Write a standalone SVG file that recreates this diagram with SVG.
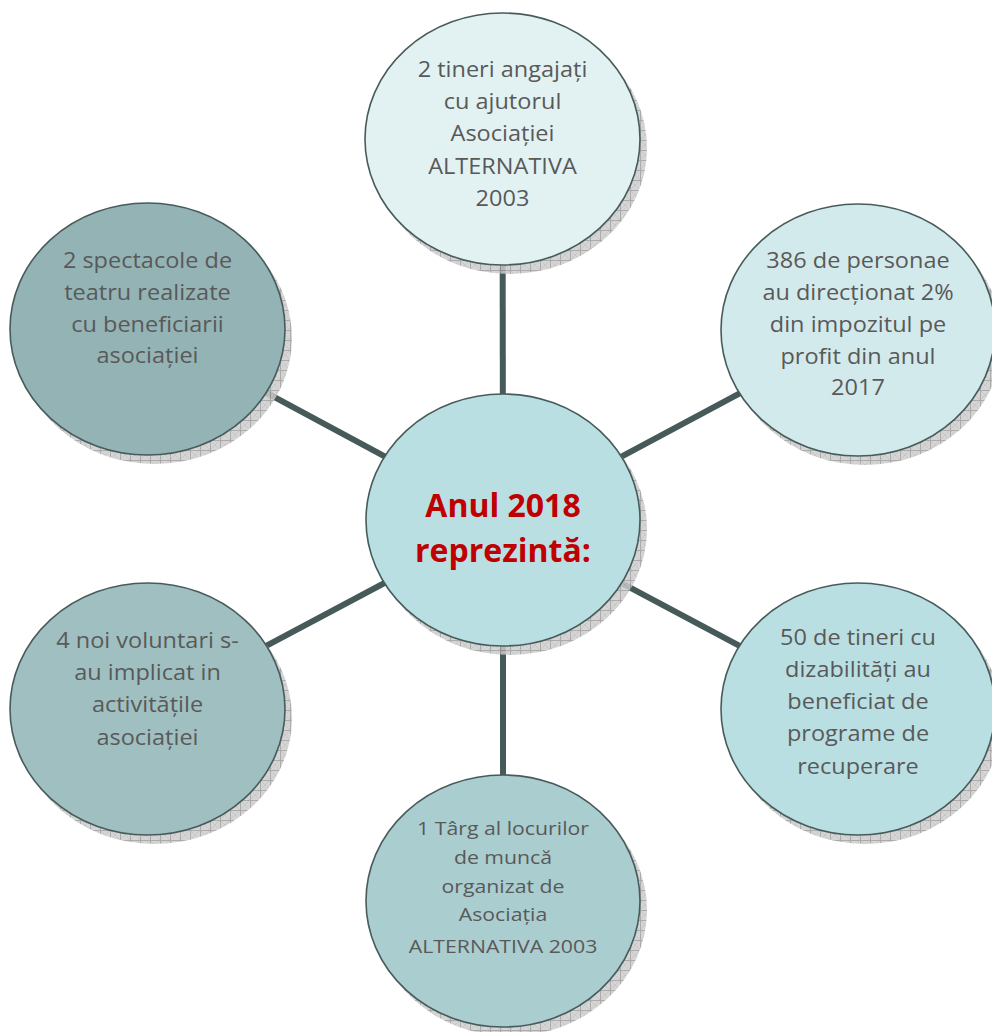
<svg xmlns="http://www.w3.org/2000/svg" width="992" height="1032" viewBox="0 0 992 1032">
  <defs>
    <pattern id="hatch" width="10" height="10" patternUnits="userSpaceOnUse">
      <rect width="10" height="10" fill="#cdcdcd"/>
      <path d="M0 0L10 10M10 0L0 10" stroke="#b4b4b4" stroke-width="0.6"/>
      <path d="M0 0.5H10M0.5 0V10" stroke="#9c9c9c" stroke-width="1"/>
    </pattern>
    <style>
      .conn { stroke: #475a5a; stroke-width: 6; stroke-linecap: butt; }
      .shadow { fill: url(#hatch); opacity: 0.85; }
      .node { stroke: #485b5b; stroke-width: 1.6; }
      .lbl { font-family: "Open Sans", "Liberation Sans", sans-serif; font-size: 21px; fill: #595959; text-anchor: middle; }
      .lbl-s { font-size: 19px; }
      .title { font-family: "Open Sans", "Liberation Sans", sans-serif; font-size: 32px; font-weight: bold; fill: #c00000; text-anchor: middle; }
    </style>
  </defs>
  <rect width="992" height="1032" fill="#ffffff"/>

  <g id="connectors">
    <line class="conn" x1="503" y1="520" x2="502.5" y2="139"/>
    <line class="conn" x1="503" y1="520" x2="858" y2="330"/>
    <line class="conn" x1="503" y1="520" x2="858" y2="709"/>
    <line class="conn" x1="503" y1="520" x2="503" y2="901"/>
    <line class="conn" x1="503" y1="520" x2="147.5" y2="709"/>
    <line class="conn" x1="503" y1="520" x2="147.5" y2="329"/>
  </g>

  <g id="shadows">
    <ellipse class="shadow" cx="509.5" cy="148" rx="137.5" ry="126"/>
    <ellipse class="shadow" cx="865" cy="339" rx="137" ry="126"/>
    <ellipse class="shadow" cx="865" cy="718" rx="137" ry="126"/>
    <ellipse class="shadow" cx="510" cy="910" rx="137" ry="126"/>
    <ellipse class="shadow" cx="154.5" cy="718" rx="137.5" ry="126"/>
    <ellipse class="shadow" cx="154.5" cy="338" rx="137.5" ry="126"/>
    <ellipse class="shadow" cx="510" cy="529" rx="137" ry="126"/>
  </g>

  <g id="node-top">
    <ellipse class="node" cx="502.5" cy="139" rx="137.5" ry="126" fill="#e2f2f3"/>
    <g transform="translate(502.5 0) scale(1.12 1)">
      <text class="lbl" x="0" y="77">2 tineri angajați</text>
      <text class="lbl" x="0" y="109">cu ajutorul</text>
      <text class="lbl" x="0" y="141">Asociației</text>
      <text class="lbl" x="0" y="174">ALTERNATIVA</text>
      <text class="lbl" x="0" y="206">2003</text>
    </g>
  </g>

  <g id="node-top-right">
    <ellipse class="node" cx="858" cy="330" rx="137" ry="126" fill="#d3eaec"/>
    <g transform="translate(858 0) scale(1.12 1)">
      <text class="lbl" x="0" y="268">386 de personae</text>
      <text class="lbl" x="0" y="300">au direcționat 2%</text>
      <text class="lbl" x="0" y="332">din impozitul pe</text>
      <text class="lbl" x="0" y="364">profit din anul</text>
      <text class="lbl" x="0" y="395">2017</text>
    </g>
  </g>

  <g id="node-bottom-right">
    <ellipse class="node" cx="858" cy="709" rx="137" ry="126" fill="#badfe3"/>
    <g transform="translate(858 0) scale(1.12 1)">
      <text class="lbl" x="0" y="645">50 de tineri cu</text>
      <text class="lbl" x="0" y="677">dizabilități au</text>
      <text class="lbl" x="0" y="709">beneficiat de</text>
      <text class="lbl" x="0" y="741">programe de</text>
      <text class="lbl" x="0" y="774">recuperare</text>
    </g>
  </g>

  <g id="node-bottom">
    <ellipse class="node" cx="503" cy="901" rx="137" ry="126" fill="#aacdd0"/>
    <g transform="translate(503 0) scale(1.12 1)">
      <text class="lbl lbl-s" x="0" y="835">1 Târg al locurilor</text>
      <text class="lbl lbl-s" x="0" y="864">de muncă</text>
      <text class="lbl lbl-s" x="0" y="893">organizat de</text>
      <text class="lbl lbl-s" x="0" y="921">Asociația</text>
      <text class="lbl lbl-s" x="0" y="953">ALTERNATIVA 2003</text>
    </g>
  </g>

  <g id="node-bottom-left">
    <ellipse class="node" cx="147.5" cy="709" rx="137.5" ry="126" fill="#9fbfc1"/>
    <g transform="translate(147.5 0) scale(1.12 1)">
      <text class="lbl" x="0" y="648">4 noi voluntari s-</text>
      <text class="lbl" x="0" y="680">au implicat in</text>
      <text class="lbl" x="0" y="712">activitățile</text>
      <text class="lbl" x="0" y="745">asociației</text>
    </g>
  </g>

  <g id="node-top-left">
    <ellipse class="node" cx="147.5" cy="329" rx="137.5" ry="126" fill="#94b3b5"/>
    <g transform="translate(147.5 0) scale(1.12 1)">
      <text class="lbl" x="0" y="268">2 spectacole de</text>
      <text class="lbl" x="0" y="300">teatru realizate</text>
      <text class="lbl" x="0" y="332">cu beneficiarii</text>
      <text class="lbl" x="0" y="363">asociației</text>
    </g>
  </g>

  <g id="node-center">
    <ellipse class="node" cx="503" cy="520" rx="137" ry="126" fill="#badfe3"/>
    <text class="title" x="503" y="517">Anul 2018</text>
    <text class="title" x="503" y="562">reprezintă:</text>
  </g>
</svg>
